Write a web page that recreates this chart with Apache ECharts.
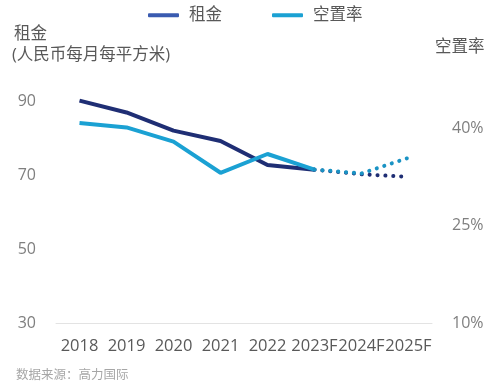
<!DOCTYPE html>
<html><head><meta charset="utf-8">
<script src="https://cdn.jsdelivr.net/npm/echarts@6/dist/echarts.min.js"></script>
<style>html,body{margin:0;padding:0;background:#fff}#c{width:500px;height:390px}</style>
</head><body><div id="c"></div>
<script>
var categories = ['2018','2019','2020','2021','2022','2023F','2024F','2025F'];
var rent = [90.1, 86.9, 82.0, 79.2, 72.7, 71.4, 70.2, 69.5];
var vacancy = [40.9, 40.2, 38.0, 33.2, 36.1, 33.7, 33.1, 35.5];
var forecastStart = 5; // index of 2023F
var leftTicks = [30, 50, 70, 90];
var rightTicks = [10, 25, 40];

var FONT = '"Open Sans","Noto Sans CJK SC",sans-serif';
function actual(arr){ return arr.map(function(v,i){ return i<=forecastStart ? v : null; }); }
function forecast(arr){ return arr.map(function(v,i){ return i>=forecastStart ? v : null; }); }

var rentColor = '#1f2e74', vacColor = '#1ba1d3';
var dot = {type:[0.1,7.8], cap:'round', width:4};

var chart = echarts.init(document.getElementById('c'));
chart.setOption({
  animation:false,
  textStyle:{fontFamily:FONT},
  legend:{
    top:2, left:143, itemWidth:31, itemHeight:4, itemGap:50,
    textStyle:{fontSize:16.5, color:'#595959', fontFamily:FONT, padding:[0,0,0,5]},
    data:[
      {name:'租金', icon:'roundRect', itemStyle:{color:'#3a5bb0'}, lineStyle:{color:'#3a5bb0'}},
      {name:'空置率', icon:'roundRect', itemStyle:{color:vacColor}, lineStyle:{color:vacColor}}
    ]
  },
  grid:{left:56, right:68, top:64, bottom:67, containLabel:false},
  graphic:[
    {type:'text', left:14, top:26, style:{text:'租金', font:'16.5px '+FONT, fill:'#595959'}},
    {type:'text', left:12, top:47, style:{text:'(人民币每月每平方米)', font:'16.5px '+FONT, fill:'#595959'}},
    {type:'text', left:435, top:39, style:{text:'空置率', font:'16.5px '+FONT, fill:'#595959'}},
    {type:'text', left:16, top:369, style:{text:'数据来源：高力国际', font:'12.5px '+FONT, fill:'#a6a6a6'}}
  ],
  xAxis:{
    type:'category', data:categories, boundaryGap:true,
    axisLine:{show:true, lineStyle:{color:'#e3e3e3', width:1}},
    axisTick:{show:false},
    axisLabel:{fontSize:16.5, color:'#595959', margin:15, interval:0, fontFamily:FONT}
  },
  yAxis:[
    {type:'value', min:30, max:100, interval:20, position:'left',
     splitLine:{show:false}, axisLine:{show:false}, axisTick:{show:false},
     axisLabel:{fontSize:16, color:'#7f7f7f', margin:20, showMaxLabel:false, fontFamily:FONT,
       formatter:function(v){ return leftTicks.indexOf(v)>=0 ? String(v) : ''; }}},
    {type:'value', min:10, max:50, interval:15, position:'right',
     splitLine:{show:false}, axisLine:{show:false}, axisTick:{show:false},
     axisLabel:{fontSize:16, color:'#7f7f7f', margin:20, showMaxLabel:false, fontFamily:FONT,
       formatter:function(v){ return rightTicks.indexOf(v)>=0 ? v+'%' : ''; }}}
  ],
  series:[
    {name:'租金', type:'line', yAxisIndex:0, data:actual(rent), symbol:'none', z:3,
     lineStyle:{color:rentColor, width:4}, itemStyle:{color:rentColor}},
    {name:'空置率', type:'line', yAxisIndex:1, data:actual(vacancy), symbol:'none', z:4,
     lineStyle:{color:vacColor, width:4}, itemStyle:{color:vacColor}},
    {name:'租金', type:'line', yAxisIndex:0, data:forecast(rent), symbol:'none', z:3,
     lineStyle:Object.assign({color:rentColor}, dot), itemStyle:{color:rentColor}},
    {name:'空置率', type:'line', yAxisIndex:1, data:forecast(vacancy), symbol:'none', z:4,
     lineStyle:Object.assign({color:'#1a93c4'}, dot), itemStyle:{color:vacColor}}
  ]
});
</script></body></html>
